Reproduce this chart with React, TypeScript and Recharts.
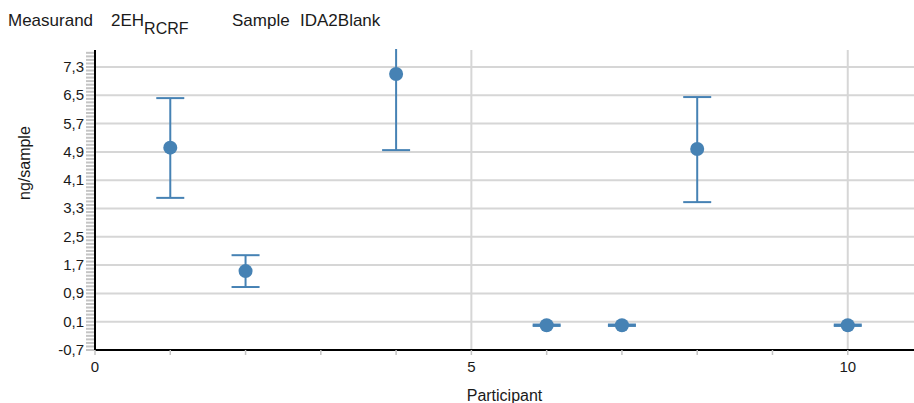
import React from "react"
import { CartesianGrid, ErrorBar, Scatter, ScatterChart, XAxis, YAxis } from "recharts"

const participants = [1, 2, 4, 6, 7, 8, 10]
const results = [5.02, 1.53, 7.1, 0.0, 0.0, 4.98, 0.0]
const lowerBounds = [3.6, 1.08, 4.95, -0.02, -0.02, 3.48, -0.02]
const upperBounds = [6.42, 1.98, 9.25, 0.02, 0.02, 6.45, 0.02]

const yTicks = [-0.7, 0.1, 0.9, 1.7, 2.5, 3.3, 4.1, 4.9, 5.7, 6.5, 7.3]
const yMinorTicks = Array.from({ length: 85 }, (_, i) => Math.round((-0.7 + i * 0.1) * 10) / 10)
const xTicks = [0, 1, 2, 3, 4, 5, 6, 7, 8, 9, 10]
const xLabelled = [0, 5, 10]
const xGridLines = [5, 10]

const BLUE = "#4682b4"
const GRID = "#d6d6d6"
const COMB = "#c4c4c4"
const TEXT = "#1a1a1a"
const FONT = "'Liberation Sans', Arial, sans-serif"

const points = participants.map((p, i) => ({
  participant: p,
  value: results[i],
  err: [results[i] - lowerBounds[i], upperBounds[i] - results[i]],
}))

const Dot = (props: any) => <circle cx={props.cx} cy={props.cy} r={7} fill={BLUE} />

// y tick: short grey dash at every 0.1, label only on the major steps
const YTick = (props: any) => {
  const { x, y, payload } = props
  const v = payload.value as number
  return (
    <g>
      <path d={`M${x + 2},${y}H${x + 10}`} stroke={COMB} strokeWidth={2} fill="none" />
      {yTicks.includes(v) && (
        <text x={x} y={y} dy={5} textAnchor="end" fill={TEXT} fontSize={15} fontFamily={FONT}>
          {v.toFixed(1).replace(".", ",")}
        </text>
      )}
    </g>
  )
}

const headText = { position: "absolute" as const, top: 11, fontSize: 17, color: TEXT, whiteSpace: "pre" as const }

export default function App() {
  return (
    <div style={{ position: "absolute", left: 0, top: 0, width: 914, height: 403, background: "#fff", fontFamily: FONT, overflow: "hidden" }}>
      <ScatterChart width={914} height={403} margin={{ top: 50, right: 0, bottom: 0, left: 0 }} style={{ fontFamily: FONT }}>
        <CartesianGrid horizontalValues={yTicks} verticalValues={xGridLines} stroke={GRID} strokeWidth={2} />
        <XAxis
          type="number"
          dataKey="participant"
          domain={[0, 10.88]}
          ticks={xTicks}
          interval={0}
          tickFormatter={(v: number) => (xLabelled.includes(v) ? String(v) : "")}
          height={53}
          tickSize={5}
          tickMargin={6}
          tickLine={{ stroke: COMB, strokeWidth: 1.5 }}
          axisLine={{ stroke: "#000", strokeWidth: 2 }}
          tick={{ fill: TEXT, fontSize: 15 }}
          label={{ value: "Participant", position: "insideBottom", offset: 2, fill: TEXT, fontSize: 16 }}
        />
        <YAxis
          type="number"
          domain={[-0.7, 7.78]}
          allowDataOverflow
          ticks={yMinorTicks}
          interval={0}
          width={95}
          tickSize={9}
          tickMargin={2}
          tickLine={false}
          tick={<YTick />}
          axisLine={{ stroke: "#000", strokeWidth: 2 }}
          label={{ value: "ng/sample", angle: -90, position: "insideLeft", offset: 24, fill: TEXT, fontSize: 16 }}
        />
        <Scatter data={points} dataKey="value" shape={<Dot />} isAnimationActive={false}>
          <ErrorBar dataKey="err" direction="y" width={14} stroke={BLUE} strokeWidth={2} isAnimationActive={false} />
        </Scatter>
      </ScatterChart>
      {/* header band: also trims error bars that run past the top of the plot */}
      <div style={{ position: "absolute", left: 0, top: 0, width: 914, height: 49, background: "#fff" }}>
        <span style={{ ...headText, left: 8 }}>Measurand</span>
        <span style={{ ...headText, left: 111 }}>
          2EH<span style={{ position: "relative", top: 8, fontSize: 16 }}>RCRF</span>
        </span>
        <span style={{ ...headText, left: 232 }}>Sample</span>
        <span style={{ ...headText, left: 300 }}>IDA2Blank</span>
      </div>
    </div>
  )
}
